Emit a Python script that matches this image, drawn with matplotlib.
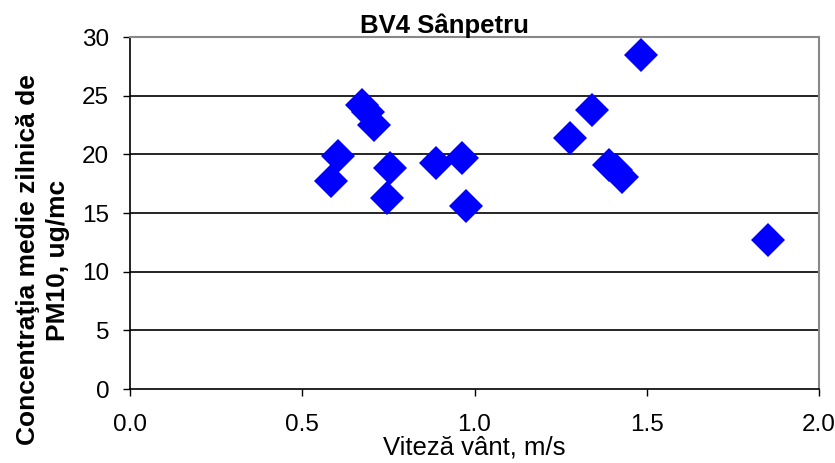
import matplotlib
matplotlib.use("Agg")
import matplotlib.pyplot as plt

plt.rcParams['font.family'] = ['Liberation Sans', 'DejaVu Sans']

wind_speed = [0.583, 0.605, 0.674, 0.69, 0.707, 0.747, 0.756, 0.887, 0.964, 0.976,
              1.277, 1.340, 1.391, 1.41, 1.429, 1.483, 1.851]
pm10 = [17.7, 19.9, 24.2, 23.6, 22.5, 16.3, 18.8, 19.3, 19.7, 15.6,
        21.4, 23.8, 19.1, 18.7, 18.1, 28.5, 12.7]
x_ticks = [0.0, 0.5, 1.0, 1.5, 2.0]
y_ticks = [0, 5, 10, 15, 20, 25, 30]

fig = plt.figure(figsize=(8.35, 4.63), dpi=100)
ax = fig.add_axes([130/835, 74/463, 689/835, 352/463])

for y in y_ticks[1:]:
    ax.axhline(y, color='black', lw=1.2, zorder=1)

ax.plot(wind_speed, pm10, linestyle='none', marker='D', markersize=17,
        color='#0000FF', markeredgewidth=0, zorder=3)

ax.set_xlim(0, 2.0)
ax.set_ylim(0, 30)
ax.set_xticks(x_ticks)
ax.set_xticklabels([f"{v:.1f}" for v in x_ticks])
ax.set_yticks(y_ticks)
ax.tick_params(axis='both', labelsize=17.5, direction='out', length=5, width=1, color='black')
ax.tick_params(axis='x', pad=13)
ax.tick_params(axis='y', pad=10)

for s in ['left', 'bottom']:
    ax.spines[s].set_color('black')
    ax.spines[s].set_linewidth(1.2)
for s in ['top', 'right']:
    ax.spines[s].set_color('#888888')
    ax.spines[s].set_linewidth(1.5)

ax.set_xlabel('Viteză vânt, m/s', fontsize=18.5, labelpad=0)
fig.text(43/835, 1 - 260/463, 'Concentraţia medie zilnică de\nPM10, ug/mc',
         rotation=90, ha='center', va='center', multialignment='center',
         fontsize=19, fontweight='bold', linespacing=1.3)
fig.text(444/835, 1 - 33.5/463, 'BV4 Sânpetru', ha='center', va='baseline',
         fontsize=18.5, fontweight='bold')

fig.savefig('out.png', dpi=100)
